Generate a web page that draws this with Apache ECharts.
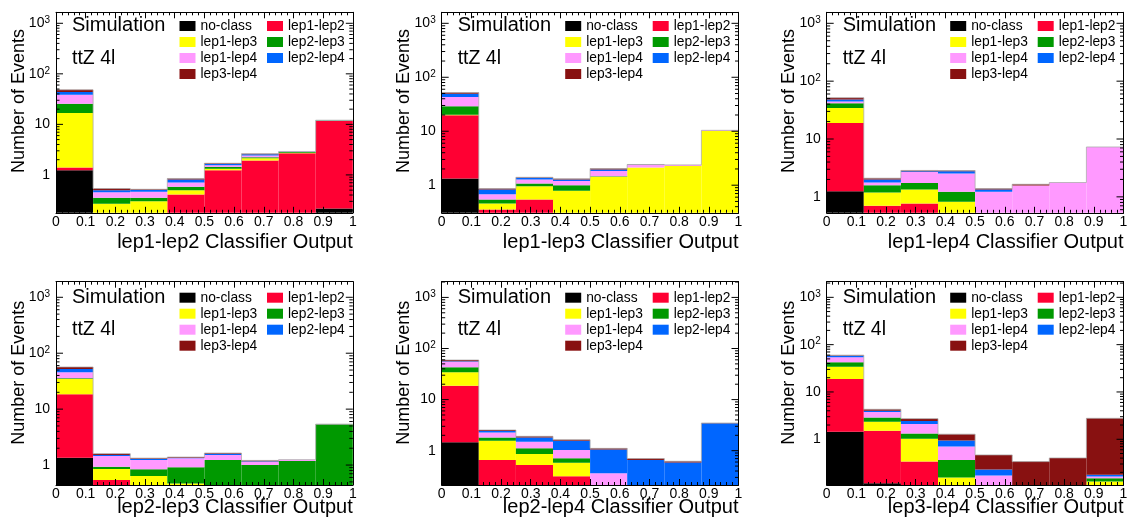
<!DOCTYPE html>
<html>
<head>
<meta charset="utf-8">
<script src="https://cdn.jsdelivr.net/npm/echarts@6/dist/echarts.min.js"></script>
<style>
  html, body { margin: 0; padding: 0; background: #ffffff; }
  #chart { width: 1133px; height: 527px; }
</style>
</head>
<body>
<div id="chart"></div>
<script>
// ---- data -------------------------------------------------------------
const binEdges = [0, 0.125, 0.25, 0.375, 0.5, 0.625, 0.75, 0.875, 1];
const classNames = ['no-class', 'lep1-lep2', 'lep1-lep3', 'lep2-lep3', 'lep1-lep4', 'lep2-lep4', 'lep3-lep4'];
const classifierNames = ['lep1-lep2', 'lep1-lep3', 'lep1-lep4', 'lep2-lep3', 'lep2-lep4', 'lep3-lep4'];

// events per output bin; one row per true class, in stacking order (bottom first)
const eventsLep1Lep2 = [
  [1.24, 0, 0, 0, 0, 0, 0, 0.217],
  [0.16, 0, 0, 0.409, 1.24, 1.92, 2.68, 11.4],
  [15.3, 0.268, 0.302, 0.089, 0.09, 0.21, 0.08, 0.15],
  [8.8, 0.084, 0.05, 0.082, 0.11, 0.10, 0.08, 0.10],
  [13.0, 0.103, 0.11, 0.126, 0.11, 0.18, 0.03, 0.10],
  [5.0, 0.043, 0.043, 0.104, 0.10, 0.15, 0.02, 0.08],
  [4.8, 0.039, 0.015, 0.04, 0.05, 0.07, 0.02, 0.05]
];
const eventsLep1Lep3 = [
  [1.33, 0, 0, 0, 0, 0, 0, 0],
  [18.37, 0.355, 0.543, 0, 0, 0, 0, 0],
  [0.6, 0.103, 0.417, 0.785, 1.43, 2.12, 2.28, 10.1],
  [8.6, 0.085, 0.11, 0.215, 0.04, 0, 0, 0],
  [14.1, 0.139, 0.2, 0.19, 0.37, 0.26, 0.1, 0.3],
  [6.5, 0.148, 0.1, 0.08, 0.11, 0.02, 0, 0],
  [2.5, 0.037, 0.03, 0.04, 0.08, 0.02, 0, 0]
];
const eventsLep1Lep4 = [
  [1.25, 0, 0, 0, 0, 0, 0, 0],
  [17.65, 0.70, 0.77, 0, 0, 0, 0, 0],
  [15.3, 0.49, 0.57, 0.82, 0, 0, 0, 0],
  [7.5, 0.40, 0.40, 0.40, 0, 0, 0, 0],
  [2.9, 0.18, 0.96, 1.31, 1.22, 1.57, 1.77, 7.28],
  [3.7, 0.23, 0.08, 0.24, 0.12, 0, 0, 0],
  [3.3, 0.10, 0.08, 0.08, 0.05, 0.08, 0, 0]
];
const eventsLep2Lep3 = [
  [1.35, 0, 0, 0, 0, 0, 0, 0],
  [17.05, 0.54, 0, 0, 0, 0, 0, 0],
  [16.2, 0.31, 0.64, 0.47, 0, 0, 0, 0],
  [0.9, 0.08, 0.20, 0.44, 1.23, 1.0, 1.18, 5.34],
  [10.0, 0.52, 0.39, 0.41, 0.28, 0.15, 0.07, 0.06],
  [6.6, 0.06, 0.05, 0.03, 0.09, 0.02, 0, 0],
  [4.6, 0.09, 0.05, 0.04, 0.04, 0.04, 0, 0]
];
const eventsLep2Lep4 = [
  [1.46, 0, 0, 0, 0, 0, 0, 0],
  [17.24, 0.656, 0.525, 0.315, 0, 0, 0, 0],
  [15.4, 0.914, 0.335, 0.267, 0, 0, 0, 0],
  [8.7, 0.25, 0.25, 0.126, 0, 0, 0, 0],
  [12.4, 0.46, 0.39, 0.322, 0.36, 0, 0, 0],
  [1.3, 0.15, 0.32, 0.54, 0.70, 0.656, 0.59, 3.43],
  [3.0, 0.11, 0.09, 0.07, 0.05, 0.044, 0.03, 0.05]
];
const eventsLep3Lep4 = [
  [1.45, 0.118, 0, 0, 0, 0, 0, 0],
  [17.35, 1.402, 0.337, 0, 0, 0, 0, 0],
  [15.5, 0.84, 0.683, 0.155, 0, 0, 0, 0.128],
  [8.1, 0.51, 0.30, 0.211, 0, 0, 0, 0.022],
  [11.6, 0.91, 0.79, 0.334, 0.171, 0, 0, 0.013],
  [4.6, 0.25, 0.33, 0.24, 0.058, 0, 0, 0.014],
  [1.4, 0.27, 0.29, 0.34, 0.238, 0.337, 0.403, 2.60]
];
const panelEvents = [eventsLep1Lep2, eventsLep1Lep3, eventsLep1Lep4, eventsLep2Lep3, eventsLep2Lep4, eventsLep3Lep4];

// vertical range of each log axis
const yAxisMin = [0.178, 0.308, 0.53, 0.44, 0.213, 0.108];
const yAxisMax = [1650, 1600, 1550, 1900, 2030, 2140];
const xTickInterval = 0.1;

// ---- styling / layout ---------------------------------------------------
const FONT = '"Liberation Sans", Arial, Helvetica, sans-serif';
const classColors = ['#000000', '#ff0033', '#ffff00', '#009900', '#ff99ff', '#0066ff', '#881111'];
const colLeft = [56, 441.7, 826.7];
const rowTop = [12.3, 281.7];
const rowHeight = [200.5, 203.3];
const plotWidth = 296.8;
const legendTop = [18, 289.7];
const simTextY = [25.5, 297.5];
const procTextY = [58.5, 329.5];
const xTitleY = [242.5, 507.5];
const yTitleY = [101, 372.8];
const tickFont = 14;

// log-axis tick values (decades and their 2..9 subdivisions)
function logTicks(lo, hi) {
  const out = [];
  for (let e = -2; e <= 4; e++) {
    for (let k = 1; k <= 9; k++) {
      const v = k * Math.pow(10, e);
      if (v > lo * 1.0001 && v < hi * 0.9999) out.push([v, k === 1 ? 1 : 0]);
    }
  }
  return out;
}

const grids = [], xAxes = [], yAxes = [], series = [], legends = [], graphics = [];

panelEvents.forEach(function (events, p) {
  const col = p % 3, row = Math.floor(p / 3);
  const gl = colLeft[col], gt = rowTop[row], gh = rowHeight[row];
  const yMin = yAxisMin[p], yMax = yAxisMax[p];

  grids.push({ left: gl, top: gt, width: plotWidth, height: gh, containLabel: false });

  const xCommon = {
    gridIndex: p, type: 'value', min: 0, max: 1, interval: xTickInterval, z: 6,
    splitLine: { show: false },
    axisLine: { show: true, onZero: false, lineStyle: { color: '#000', width: 1 } },
    axisTick: { show: true, inside: true, length: 6, lineStyle: { color: '#000', width: 1 } },
    minorTick: { show: true, splitNumber: 5, length: 3, lineStyle: { color: '#000', width: 1 } }
  };
  xAxes.push(Object.assign({}, xCommon, {
    position: 'bottom',
    axisLabel: { show: true, color: '#000', fontSize: tickFont, fontFamily: FONT, margin: 2,
      formatter: function (v) { return String(Math.round(v * 10) / 10); } }
  }));
  xAxes.push(Object.assign({}, xCommon, { position: 'top', axisLabel: { show: false } }));

  const yCommon = {
    gridIndex: p, type: 'log', logBase: 10, min: yMin, max: yMax, z: 6,
    splitLine: { show: false }, minorTick: { show: false }, axisTick: { show: false },
    axisLine: { show: true, onZero: false, lineStyle: { color: '#000', width: 1 } }
  };
  yAxes.push(Object.assign({}, yCommon, {
    position: 'left',
    axisLabel: {
      show: true, color: '#000', fontSize: tickFont, fontFamily: FONT, margin: 6, hideOverlap: false,
      formatter: function (v) {
        const e = Math.log10(v), r = Math.round(e);
        if (Math.abs(e - r) > 1e-6 || r < 0) return '';
        if (r === 0) return '1';
        if (r === 1) return '10';
        return '10{s|' + r + '}';
      },
      rich: { s: { fontSize: 10, color: '#000', fontFamily: FONT, verticalAlign: 'top', padding: [0, 0, 6, 0] } }
    }
  }));
  yAxes.push(Object.assign({}, yCommon, { position: 'right', axisLabel: { show: false } }));

  // stacked histogram layers
  const cum = binEdges.slice(0, -1).map(function () { return 0; });
  events.forEach(function (counts, c) {
    const data = counts.map(function (v, b) {
      const lo = cum[b];
      cum[b] += v;
      return [binEdges[b], binEdges[b + 1], lo, cum[b]];
    });
    const color = classColors[c];
    series.push({
      type: 'custom', name: classNames[c], xAxisIndex: 2 * p, yAxisIndex: 2 * p,
      coordinateSystem: 'cartesian2d', silent: true, z: 2,
      itemStyle: { color: color },
      encode: { x: [0, 1], y: 3 },
      data: data,
      renderItem: function (params, api) {
        const lo = Math.max(api.value(2), yMin);
        const hi = Math.min(api.value(3), yMax);
        if (!(hi > lo)) return null;
        const a = api.coord([api.value(0), lo]);
        const b = api.coord([api.value(1), hi]);
        return {
          type: 'rect',
          shape: { x: a[0], y: b[1], width: b[0] - a[0], height: a[1] - b[1] },
          style: { fill: color }
        };
      }
    });
  });

  // light outline of the stack total
  const totals = cum.slice();
  series.push({
    type: 'custom', name: 'stack total', xAxisIndex: 2 * p, yAxisIndex: 2 * p,
    coordinateSystem: 'cartesian2d', silent: true, z: 3,
    encode: { x: [0, 1], y: 2 },
    data: totals.map(function (t, b) { return [binEdges[b], binEdges[b + 1], t, b > 0 ? totals[b - 1] : t]; }),
    renderItem: function (params, api) {
      const t = Math.max(api.value(2), yMin), prev = Math.max(api.value(3), yMin);
      const a = api.coord([api.value(0), prev]);
      const b = api.coord([api.value(0), t]);
      const c = api.coord([api.value(1), t]);
      return {
        type: 'polyline',
        shape: { points: [a, b, c] },
        style: { stroke: 'rgba(170,170,170,0.75)', lineWidth: 1, fill: null }
      };
    }
  });

  // y-axis ticks on both frame sides
  series.push({
    type: 'custom', name: 'y ticks', xAxisIndex: 2 * p, yAxisIndex: 2 * p,
    coordinateSystem: 'cartesian2d', silent: true, z: 7,
    encode: { y: 0 },
    data: logTicks(yMin, yMax),
    renderItem: function (params, api) {
      const v = api.value(0), major = api.value(1) === 1;
      const len = major ? 7 : 3.5;
      const l = api.coord([0, v]), r = api.coord([1, v]);
      return {
        type: 'group',
        children: [
          { type: 'line', shape: { x1: l[0], y1: l[1], x2: l[0] + len, y2: l[1] }, style: { stroke: '#000', lineWidth: 1 } },
          { type: 'line', shape: { x1: r[0], y1: r[1], x2: r[0] - len, y2: r[1] }, style: { stroke: '#000', lineWidth: 1 } }
        ]
      };
    }
  });

  // legend, two columns
  const legendCommon = {
    orient: 'vertical', top: legendTop[row], itemWidth: 16, itemHeight: 10, itemGap: 0,
    padding: 0, icon: 'rect', selectedMode: false, z: 8,
    textStyle: { color: '#000', fontSize: 13.8, fontFamily: FONT, lineHeight: 16 }
  };
  legends.push(Object.assign({}, legendCommon, {
    left: gl + 123.5, data: ['no-class', 'lep1-lep3', 'lep1-lep4', 'lep3-lep4']
  }));
  legends.push(Object.assign({}, legendCommon, {
    left: gl + 211, data: ['lep1-lep2', 'lep2-lep3', 'lep2-lep4']
  }));

  // panel texts and axis titles
  graphics.push({ type: 'text', x: gl + 16, y: simTextY[row], z: 9,
    style: { text: 'Simulation', fill: '#000', fontSize: 20, fontFamily: FONT, verticalAlign: 'middle' } });
  graphics.push({ type: 'text', x: gl + 16, y: procTextY[row], z: 9,
    style: { text: 'ttZ 4l', fill: '#000', fontSize: 19.5, fontFamily: FONT, verticalAlign: 'middle' } });
  graphics.push({ type: 'text', x: gl + plotWidth, y: xTitleY[row], z: 9,
    style: { text: classifierNames[p] + ' Classifier Output', fill: '#000', fontSize: 20, fontFamily: FONT,
      align: 'right', verticalAlign: 'middle' } });
  graphics.push({ type: 'text', x: gl - 37.2, y: yTitleY[row], rotation: Math.PI / 2, z: 9,
    style: { text: 'Number of Events', fill: '#000', fontSize: 18, fontFamily: FONT,
      align: 'center', verticalAlign: 'middle' } });
});

const chart = echarts.init(document.getElementById('chart'), null, { renderer: 'canvas' });
chart.setOption({
  animation: false,
  backgroundColor: '#ffffff',
  grid: grids,
  xAxis: xAxes,
  yAxis: yAxes,
  legend: legends,
  series: series,
  graphic: graphics
});
</script>
</body>
</html>
